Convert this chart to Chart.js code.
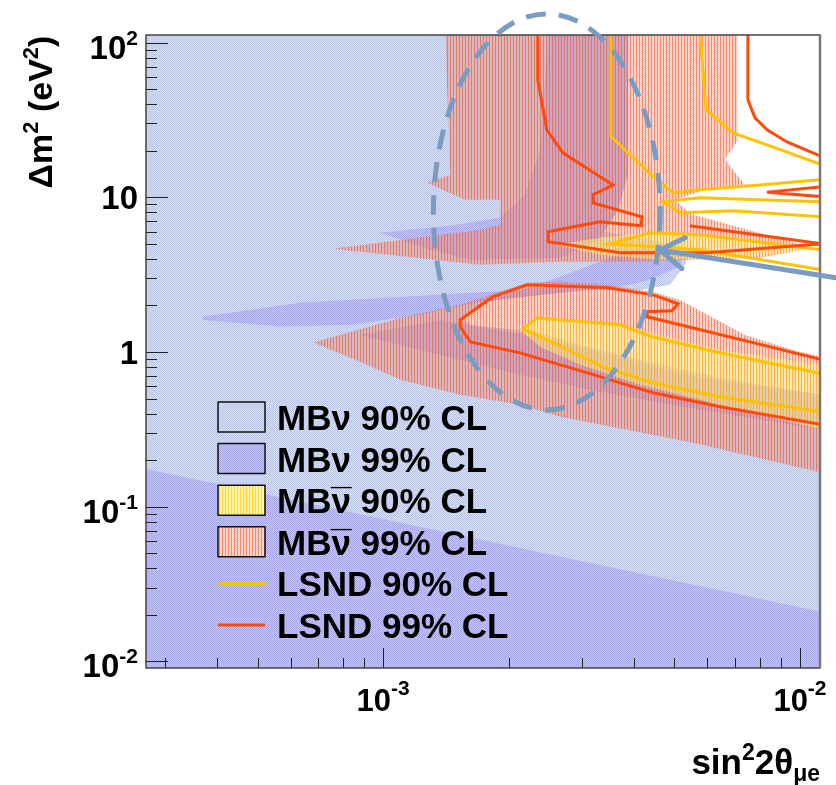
<!DOCTYPE html>
<html><head><meta charset="utf-8">
<script src="https://cdn.jsdelivr.net/npm/chart.js@4/dist/chart.umd.min.js"></script>
<style>html,body{margin:0;padding:0;background:#fff}</style>
</head><body>
<canvas id="c" width="836" height="785"></canvas>
<script>
// ---------------- axis ranges & tick labels ----------------
const X_MIN = 2.7e-4, X_MAX = 0.01117, Y_MIN = 0.00906, Y_MAX = 112;
const xTickText = {'-3': ['10', '-3'], '-2': ['10', '-2']};
const yTickText = {'-2': ['10', '-2'], '-1': ['10', '-1'], '0': ['1', ''], '1': ['10', ''], '2': ['10', '2']};
const legendLabels = ['MB\u03BD 90% CL', 'MB\u03BD 99% CL', 'MB\u03BD\u0304 90% CL', 'MB\u03BD\u0304 99% CL', 'LSND 90% CL', 'LSND 99% CL'];

// ---------------- regions [sin^2 2theta, dm^2 (eV^2)] ----------------
const mbNu90Region = [[2.6e-4,115],[3.87e-3,115],[3.87e-3,15.0],[3.50e-3,10.4],[3.22e-3,7.71],[3.41e-3,5.98],[4.37e-3,5.31],[5.45e-3,4.58],[5.30e-3,3.66],[4.88e-3,2.72],[4.13e-3,2.52],[3.31e-3,2.52],[2.66e-3,2.64],[2.22e-3,2.64],[1.84e-3,2.27],[1.55e-3,1.66],[1.62e-3,1.50],[1.91e-3,1.43],[2.38e-3,1.33],[2.97e-3,1.11],[4.13e-3,0.891],[6.43e-3,0.681],[0.0113,0.529],[0.0113,0.0085],[2.6e-4,0.0085]];
const mbNu99Bottom = [[2.6e-4,0.179],[0.0113,0.0209],[0.0113,0.0085],[2.6e-4,0.0085]];
const mbNu99Tongue = [[3.70e-4,1.69],[6.32e-4,2.08],[1.23e-3,2.31],[2.13e-3,2.52],[2.66e-3,3.06],[3.31e-3,3.83],[4.13e-3,4.72],[5.24e-3,4.25],[5.16e-3,3.61],[4.37e-3,2.93],[3.70e-3,2.64],[2.66e-3,2.41],[1.71e-3,2.11],[1.23e-3,1.74],[8.34e-4,1.50],[5.66e-4,1.46],[3.70e-4,1.61]];
const mbNu99Top = [[2.49e-3,115],[3.87e-3,115],[3.87e-3,14.0],[3.66e-3,8.30],[3.31e-3,5.31],[2.66e-3,4.06],[1.62e-3,3.94],[1.30e-3,4.58],[9.83e-4,5.90],[1.45e-3,6.54],[1.91e-3,7.37],[2.19e-3,10.4],[2.38e-3,20.3]];
const mbNu99Band = [[1.37e-3,1.61],[2.38e-3,1.24],[3.31e-3,1.00],[5.76e-3,0.681],[0.0113,0.529],[0.0113,0.314],[5.76e-3,0.423],[3.31e-3,0.553],[2.13e-3,0.713],[1.53e-3,0.891],[1.10e-3,1.11],[8.81e-4,1.29]];
const mbNubar99Upper = [[1.41e-3,115],[7.10e-3,115],[7.10e-3,23.5],[6.61e-3,17.5],[7.38e-3,12.0],[5.92e-3,11.2],[5.02e-3,9.64],[5.45e-3,7.82],[1.074e-2,4.72],[8.02e-3,4.06],[5.45e-3,3.94],[4.13e-3,3.83],[2.66e-3,3.83],[1.71e-3,3.66],[7.55e-4,4.65],[1.71e-3,6.17],[1.91e-3,6.64],[1.91e-3,9.64],[1.57e-3,9.64],[1.275e-3,12.4],[1.45e-3,14.0]];
const mbNubar99Lower = [[6.79e-4,1.15],[1.10e-3,1.66],[1.53e-3,2.02],[1.84e-3,2.38],[2.22e-3,2.80],[2.66e-3,2.85],[3.45e-3,2.72],[4.44e-3,2.45],[5.16e-3,2.17],[7.38e-3,1.29],[9.62e-3,1.03],[0.0113,0.931],[0.0113,0.166],[5.54e-3,0.259],[2.66e-3,0.381],[2.13e-3,0.456],[1.53e-3,0.529],[1.10e-3,0.661],[8.81e-4,0.865]];
const mbNubar90Lower = [[2.38e-3,1.66],[3.31e-3,1.57],[4.62e-3,1.29],[6.43e-3,1.03],[0.0113,0.826],[0.0113,0.314],[6.43e-3,0.456],[4.13e-3,0.614],[2.97e-3,0.826],[2.38e-3,1.08],[2.13e-3,1.39]];
const mbNubar90Upper = [[2.59e-3,4.93],[3.31e-3,5.47],[4.62e-3,5.98],[7.18e-3,5.47],[1.04e-2,4.58],[7.18e-3,4.06],[4.62e-3,3.94],[3.31e-3,4.25]];

// ---------------- LSND contours ----------------
const lsnd99TopRight = [[7.50e-3,115],[7.50e-3,42.7],[7.80e-3,32.6],[8.34e-3,27.3],[9.31e-3,22.8],[0.0113,18.3]];
const lsnd99Sliver = [[0.0113,11.7],[8.34e-3,10.8],[0.0113,10.1]];
const lsnd99Left = [[2.35e-3,115],[2.35e-3,57.4],[2.47e-3,27.3],[2.70e-3,19.4],[3.56e-3,12.0],[3.19e-3,10.4],[3.19e-3,9.21],[4.18e-3,7.48],[4.16e-3,6.54],[3.31e-3,6.94],[2.49e-3,5.98],[2.49e-3,5.16],[3.70e-3,4.38],[5.98e-3,4.38],[0.0113,5.01]];
const lsnd99Mid = [[5.45e-3,6.54],[5.66e-3,6.45],[0.0113,5.0]];
const lsnd99Lower = [[0.0113,0.891],[7.71e-3,1.15],[5.36e-3,1.46],[4.30e-3,1.69],[4.30e-3,1.82],[4.93e-3,1.85],[5.10e-3,2.05],[4.44e-3,2.34],[3.45e-3,2.60],[2.22e-3,2.72],[1.83e-3,2.27],[1.53e-3,1.61],[1.53e-3,1.46],[1.62e-3,1.16],[2.13e-3,0.987],[3.09e-3,0.733],[4.44e-3,0.545],[6.43e-3,0.443],[0.0113,0.339]];
const lsnd90Left = [[3.52e-3,115],[3.52e-3,24.6],[3.85e-3,19.7],[4.44e-3,13.6],[4.96e-3,10.7],[5.76e-3,11.2],[8.02e-3,12.0],[0.0113,13.0]];
const lsnd90TopRight = [[5.76e-3,115],[5.95e-3,36.7],[6.91e-3,26.1],[8.34e-3,21.8],[0.0113,16.2]];
const lsnd90Tongue1 = [[0.0113,9.36],[5.76e-3,9.93],[4.69e-3,9.36],[5.16e-3,7.94],[6.91e-3,8.18],[0.0113,7.48]];
const lsnd90Tongue2 = [[0.0113,4.58],[5.76e-3,5.73],[4.37e-3,5.90],[3.50e-3,5.01],[5.76e-3,4.58],[0.0113,3.40]];
const lsnd90Lower = [[0.0113,0.723],[6.43e-3,0.987],[4.44e-3,1.25],[3.70e-3,1.50],[2.34e-3,1.66],[2.17e-3,1.41],[2.56e-3,1.15],[3.37e-3,0.802],[4.44e-3,0.632],[6.43e-3,0.514],[0.0113,0.411]];

// ---------------- annotation (data units) ----------------
const ellipseCenter = [2.47e-3, 8.05];
const ellipseHalfDecades = [0.272, 1.28];
const arrowShaft = [[0.0122, 3.02], [4.61e-3, 4.57]];
const arrowWings = [[5.30e-3, 5.47], [5.21e-3, 3.46]];

// ---------------- styles ----------------
const FONT = "'Liberation Sans', Arial, Helvetica, sans-serif";
const C_LSND90 = '#ffc200', C_LSND99 = '#ff4a0a', C_ANNOT = '#7b9cc2';
const canvas = document.getElementById('c');
const ctx0 = canvas.getContext('2d');
function pattern(w, h, cells) {
  const c = document.createElement('canvas'); c.width = w; c.height = h;
  const g = c.getContext('2d');
  cells.forEach((col, i) => { if (col) { g.fillStyle = col; g.fillRect(i % w, Math.floor(i / w), 1, 1); } });
  return ctx0.createPattern(c, 'repeat');
}
const P_LB = pattern(2, 2, ['#bcc8ea', '#d4ddf2', '#d4ddf2', '#bcc8ea']);
const P_PW = pattern(2, 2, ['#a8a8ec', '#c2c2f4', '#c2c2f4', '#a8a8ec']);
const P_OR = pattern(3, 2, ['rgba(240,85,45,0.68)', 'rgba(248,140,110,0.5)', 'rgba(248,140,110,0.25)', 'rgba(240,85,45,0.68)', 'rgba(248,140,110,0.25)', 'rgba(248,140,110,0.5)']);
const P_YW = pattern(3, 2, ['rgba(255,215,20,0.6)', 'rgba(255,245,150,0.6)', 'rgba(255,245,150,0.35)', 'rgba(255,215,20,0.6)', 'rgba(255,245,150,0.35)', 'rgba(255,245,150,0.6)']);

const pts = a => a.map(([x, y]) => ({x, y}));
function region(data, bg, order) {
  return {data: pts(data), showLine: true, fill: 'shape', backgroundColor: bg, borderColor: 'rgba(0,0,0,0)', borderWidth: 0, pointRadius: 0, order, clip: 0};
}
function contour(data, color, order) {
  return {data: pts(data), showLine: true, fill: false, borderColor: color, borderWidth: 3, pointRadius: 0, order, clip: 0};
}

const datasets = [
  region(mbNu90Region, P_LB, 30),
  region(mbNu99Bottom, P_PW, 29),
  region(mbNu99Tongue, P_PW, 28),
  region(mbNu99Top, P_PW, 27),
  region(mbNu99Band, P_PW, 26),
  region(mbNubar99Upper, P_OR, 25),
  region(mbNubar99Lower, P_OR, 24),
  region(mbNubar90Lower, P_YW, 23),
  region(mbNubar90Upper, P_YW, 22),
  contour(lsnd90Left, C_LSND90, 12),
  contour(lsnd90TopRight, C_LSND90, 12),
  contour(lsnd90Tongue1, C_LSND90, 12),
  contour(lsnd90Tongue2, C_LSND90, 12),
  contour(lsnd90Lower, C_LSND90, 12),
  contour(lsnd99TopRight, C_LSND99, 11),
  contour(lsnd99Sliver, C_LSND99, 11),
  contour(lsnd99Left, C_LSND99, 11),
  contour(lsnd99Mid, C_LSND99, 11),
  contour(lsnd99Lower, C_LSND99, 11)
];

function decadeOf(v) { const e = Math.log10(v), r = Math.round(e); return Math.abs(e - r) < 1e-6 ? String(r) : null; }
function tickValues(min, max) {
  const out = [];
  for (let e = Math.floor(Math.log10(min)); e <= Math.ceil(Math.log10(max)); e++)
    for (let k = 1; k <= 9; k++) { const v = k * Math.pow(10, e); if (v >= min && v <= max) out.push([v, k === 1]); }
  return out;
}

function drawRich(ctx, parts, x, y, align) {
  let w = 0;
  parts.forEach(p => { ctx.font = `bold ${p.size}px ${FONT}`; p.w = p.t ? ctx.measureText(p.t).width : 0; w += p.w; });
  let cx = align === 'right' ? x - w : x - w / 2;
  ctx.textAlign = 'left'; ctx.textBaseline = 'alphabetic';
  parts.forEach(p => { if (!p.t) return; ctx.font = `bold ${p.size}px ${FONT}`; ctx.fillText(p.t, cx, y + (p.dy || 0)); cx += p.w; });
}

const decor = {
  id: 'decor',
  beforeDraw(chart) {
    const c = chart.ctx; c.save(); c.fillStyle = '#fff'; c.fillRect(0, 0, chart.width, chart.height); c.restore();
  },
  afterDatasetsDraw(chart) {
    const c = chart.ctx, a = chart.chartArea, xs = chart.scales.x, ys = chart.scales.y;
    c.save();
    // ticks inside frame
    c.strokeStyle = '#222'; c.lineWidth = 1;
    c.beginPath();
    tickValues(X_MIN, X_MAX).forEach(([v, maj]) => { const p = Math.round(xs.getPixelForValue(v)) + 0.5; c.moveTo(p, a.bottom); c.lineTo(p, a.bottom - (maj ? 20 : 10)); });
    tickValues(Y_MIN, Y_MAX).forEach(([v, maj]) => { const p = Math.round(ys.getPixelForValue(v)) + 0.5; c.moveTo(a.left, p); c.lineTo(a.left + (maj ? 22 : 11), p); });
    c.stroke();
    // frame
    c.strokeStyle = '#444'; c.lineWidth = 1.5;
    c.strokeRect(a.left, a.top, a.right - a.left, a.bottom - a.top);
    c.strokeStyle = '#777'; c.lineWidth = 2.5;
    c.beginPath(); c.moveTo(a.right, a.top); c.lineTo(a.right, a.bottom); c.stroke();

    // dashed ellipse
    const ex = xs.getPixelForValue(ellipseCenter[0]), ey = ys.getPixelForValue(ellipseCenter[1]);
    const rx = xs.getPixelForValue(ellipseCenter[0] * Math.pow(10, ellipseHalfDecades[0])) - ex;
    const ry = ey - ys.getPixelForValue(ellipseCenter[1] * Math.pow(10, ellipseHalfDecades[1]));
    c.strokeStyle = C_ANNOT; c.lineWidth = 5; c.setLineDash([20, 13]);
    c.beginPath(); c.ellipse(ex, ey, rx, ry, 0, 0, Math.PI * 2); c.stroke();
    c.setLineDash([]);
    // arrow
    const P = ([x, y]) => [xs.getPixelForValue(x), ys.getPixelForValue(y)];
    const t0 = P(arrowShaft[0]), t1 = P(arrowShaft[1]);
    c.lineCap = 'round'; c.lineJoin = 'round';
    c.beginPath(); c.moveTo(t0[0], t0[1]); c.lineTo(t1[0], t1[1]); c.stroke();
    const w0 = P(arrowWings[0]), w1 = P(arrowWings[1]);
    c.beginPath(); c.moveTo(w0[0], w0[1]); c.lineTo(t1[0], t1[1]); c.lineTo(w1[0], w1[1]); c.stroke();
    c.lineCap = 'butt';

    // legend
    const lx = a.left + 72, ly = a.top + 382, dy = 41.6, bw = 47, bh = 30, tx = a.left + 131;
    legendLabels.forEach((lab, i) => {
      const cy = ly + i * dy;
      if (i < 4) {
        if (i === 1) { c.fillStyle = P_PW; c.fillRect(lx, cy - bh / 2, bw, bh); }
        if (i === 2) { c.fillStyle = '#fff'; c.fillRect(lx, cy - bh / 2, bw, bh); c.fillStyle = P_OR; c.globalAlpha = 0.35; c.fillRect(lx, cy - bh / 2, bw, bh); c.globalAlpha = 1; c.fillStyle = P_YW; c.fillRect(lx, cy - bh / 2, bw, bh); c.fillRect(lx, cy - bh / 2, bw, bh); }
        if (i === 3) { c.fillStyle = '#fff'; c.fillRect(lx, cy - bh / 2, bw, bh); c.fillStyle = P_OR; c.fillRect(lx, cy - bh / 2, bw, bh); }
        c.strokeStyle = '#111'; c.lineWidth = 1.5; c.strokeRect(lx, cy - bh / 2, bw, bh);
      } else {
        c.strokeStyle = i === 4 ? C_LSND90 : C_LSND99; c.lineWidth = 3;
        c.beginPath(); c.moveTo(lx, cy); c.lineTo(lx + bw, cy); c.stroke();
      }
      c.fillStyle = '#000'; c.font = `bold 35px ${FONT}`; c.textAlign = 'left'; c.textBaseline = 'alphabetic';
      const base = cy + 13;
      const bar = lab.indexOf('\u0304');
      if (bar < 0) {
        c.fillText(lab, tx, base);
      } else {
        // antineutrino: nu with an overbar (macron glyph placed above the nu)
        const head = lab.slice(0, bar), tail = lab.slice(bar + 1);
        c.fillText(head, tx, base);
        const wHead = c.measureText(head).width, wNu = c.measureText('\u03BD').width;
        c.fillText(tail, tx + wHead, base);
        c.save();
        c.font = `bold 30px ${FONT}`; c.textAlign = 'center';
        const m = c.measureText('\u00AF');
        const sx = wNu / Math.max(6, m.width) * 1.05;
        const barTop = base - 27;
        c.translate(tx + wHead - wNu / 2, barTop + m.actualBoundingBoxAscent);
        c.scale(sx, 1);
        c.fillText('\u00AF', 0, 0);
        c.restore();
      }
    });
    c.restore();
  },
  afterDraw(chart) {
    const c = chart.ctx, a = chart.chartArea, xs = chart.scales.x, ys = chart.scales.y;
    c.save(); c.fillStyle = '#000';
    // tick labels (positions from the library's scales)
    xs.ticks.forEach(t => {
      const d = decadeOf(t.value); if (d === null || !xTickText[d]) return;
      const [b, s] = xTickText[d];
      drawRich(c, [{t: b, size: 31}, {t: s, size: 21, dy: -16}], xs.getPixelForValue(t.value), a.bottom + 43, 'center');
    });
    ys.ticks.forEach(t => {
      const d = decadeOf(t.value); if (d === null || !yTickText[d]) return;
      const [b, s] = yTickText[d];
      const py = ys.getPixelForValue(t.value);
      drawRich(c, [{t: b, size: 33}, {t: s, size: 21, dy: -14}], a.left - 8, py + (s ? 16 : 12), 'right');
    });
    // axis titles
    c.save();
    c.translate(52, a.top + 77); c.rotate(-Math.PI / 2);
    drawRich(c, [{t: '\u0394m', size: 34}, {t: '2', size: 22, dy: -14}, {t: ' (eV', size: 34}, {t: '2', size: 22, dy: -14}, {t: ')', size: 34}], 0, 0, 'center');
    c.restore();
    drawRich(c, [{t: 'sin', size: 35}, {t: '2', size: 23, dy: -14}, {t: '2\u03B8', size: 35}, {t: '\u03BCe', size: 23, dy: 7}], a.right, 774, 'right');
    c.restore();
  }
};

new Chart(canvas, {
  type: 'scatter',
  data: {datasets},
  options: {
    responsive: false, animation: false, events: [], devicePixelRatio: 1,
    layout: {padding: {top: 35, right: 16, left: 0, bottom: 0}},
    plugins: {legend: {display: false}, tooltip: {enabled: false}},
    scales: {
      x: {
        type: 'logarithmic', min: X_MIN, max: X_MAX, position: 'bottom',
        grid: {display: false, drawTicks: false}, border: {display: false},
        ticks: {display: false, autoSkip: false},
        afterFit(s) { s.height = 117; }
      },
      y: {
        type: 'logarithmic', min: Y_MIN, max: Y_MAX,
        grid: {display: false, drawTicks: false}, border: {display: false},
        ticks: {display: false, autoSkip: false},
        afterFit(s) { s.width = 146; }
      }
    }
  },
  plugins: [decor]
});
</script>
</body></html>
